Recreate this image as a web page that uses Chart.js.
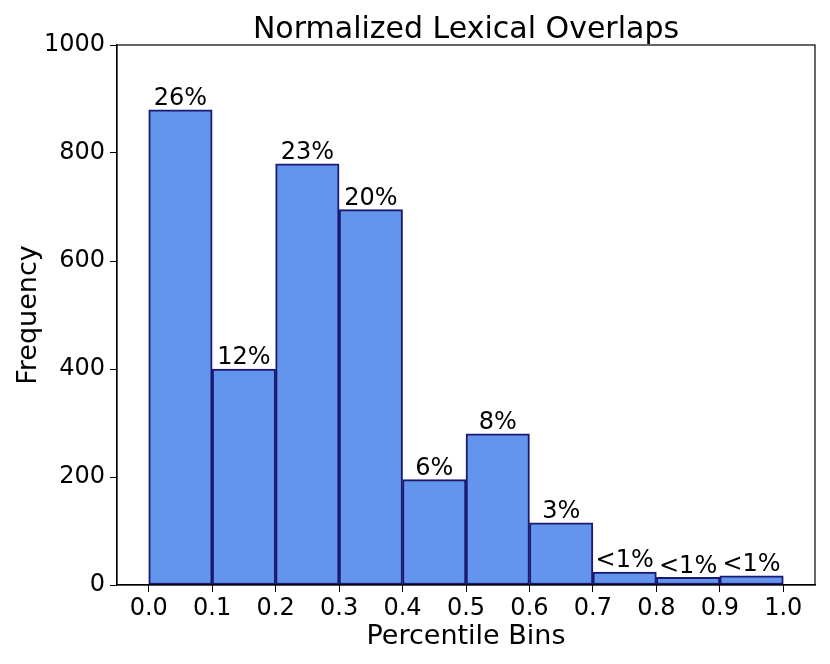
<!DOCTYPE html>
<html>
<head>
<meta charset="utf-8">
<script src="https://cdn.jsdelivr.net/npm/chart.js@4"></script>
<style>
  html, body { margin: 0; padding: 0; background: #fff; }
  canvas { display: block; }
</style>
</head>
<body>
<canvas id="hist" width="830" height="664"></canvas>
<script>
/* Normalized Lexical Overlaps — histogram */

const binCenters = [0.05, 0.15, 0.25, 0.35, 0.45, 0.55, 0.65, 0.75, 0.85, 0.95];
const frequencies = [880, 400, 780, 695, 195, 280, 115, 24, 14, 17];
const percentLabels = ['26%', '12%', '23%', '20%', '6%', '8%', '3%', '<1%', '<1%', '<1%'];
const xTicks = [0.0, 0.1, 0.2, 0.3, 0.4, 0.5, 0.6, 0.7, 0.8, 0.9, 1.0];
const yTicks = [0, 200, 400, 600, 800, 1000];

const FONT = 'DejaVu Sans';

// percent labels above bars, frame and title
const annotate = {
  id: 'annotate',
  afterDatasetsDraw(chart) {
    const { ctx } = chart;
    const bars = chart.getDatasetMeta(0).data;
    ctx.save();
    ctx.fillStyle = '#000';
    ctx.font = `24px "${FONT}"`;
    ctx.textAlign = 'center';
    ctx.textBaseline = 'bottom';
    bars.forEach((bar, i) => {
      ctx.fillText(percentLabels[i], bar.x, bar.y + 1);
    });
    ctx.restore();
  },
  afterDraw(chart) {
    const { ctx, chartArea } = chart;
    ctx.save();
    ctx.strokeStyle = '#000';
    ctx.lineWidth = 1.2;
    ctx.strokeRect(chartArea.left, chartArea.top, chartArea.right - chartArea.left, chartArea.bottom - chartArea.top);
    ctx.fillStyle = '#000';
    ctx.font = `30px "${FONT}"`;
    ctx.textAlign = 'center';
    ctx.textBaseline = 'alphabetic';
    ctx.fillText('Normalized Lexical Overlaps', (chartArea.left + chartArea.right) / 2, 38);
    ctx.restore();
  },
};

new Chart(document.getElementById('hist'), {
  type: 'bar',
  data: {
    datasets: [{
      data: binCenters.map((x, i) => ({ x, y: frequencies[i] })),
      backgroundColor: '#6495ED',
      borderColor: '#191970',
      borderWidth: 2,
      borderSkipped: false,
      barPercentage: 1,
      categoryPercentage: 1,
    }],
  },
  options: {
    responsive: false,
    animation: false,
    layout: { padding: { top: 45, right: 15, left: 0, bottom: 0 } },
    plugins: {
      legend: { display: false },
      tooltip: { enabled: false },
    },
    scales: {
      x: {
        type: 'linear',
        min: -0.05,
        max: 1.05,
        offset: false,
        afterBuildTicks: (s) => { s.ticks = xTicks.map((v) => ({ value: v })); },
        afterFit: (s) => { s.height = 79; },
        grid: { display: true, offset: false, drawOnChartArea: false, drawTicks: true, tickLength: 7, color: '#000' },
        border: { display: true, color: '#000', width: 1.2 },
        ticks: {
          color: '#000',
          font: { family: FONT, size: 24 },
          padding: 2,
          maxRotation: 0,
          callback: (v) => Number(v).toFixed(1),
        },
        title: {
          display: true,
          text: 'Percentile Bins',
          color: '#000',
          font: { family: FONT, size: 27 },
          padding: { top: 0, bottom: 11 },
        },
      },
      y: {
        min: 0,
        max: 1000,
        afterBuildTicks: (s) => { s.ticks = yTicks.map((v) => ({ value: v })); },
        afterFit: (s) => { s.width = 117; },
        grid: { display: true, drawOnChartArea: false, drawTicks: true, tickLength: 7, color: '#000' },
        border: { display: true, color: '#000', width: 1.2 },
        ticks: {
          color: '#000',
          font: { family: FONT, size: 24 },
          padding: 5,
          callback: (v) => String(v),
        },
        title: {
          display: true,
          text: 'Frequency',
          color: '#000',
          font: { family: FONT, size: 27 },
          padding: { top: 13, bottom: 0 },
        },
      },
    },
  },
  plugins: [annotate],
});
</script>
</body>
</html>
